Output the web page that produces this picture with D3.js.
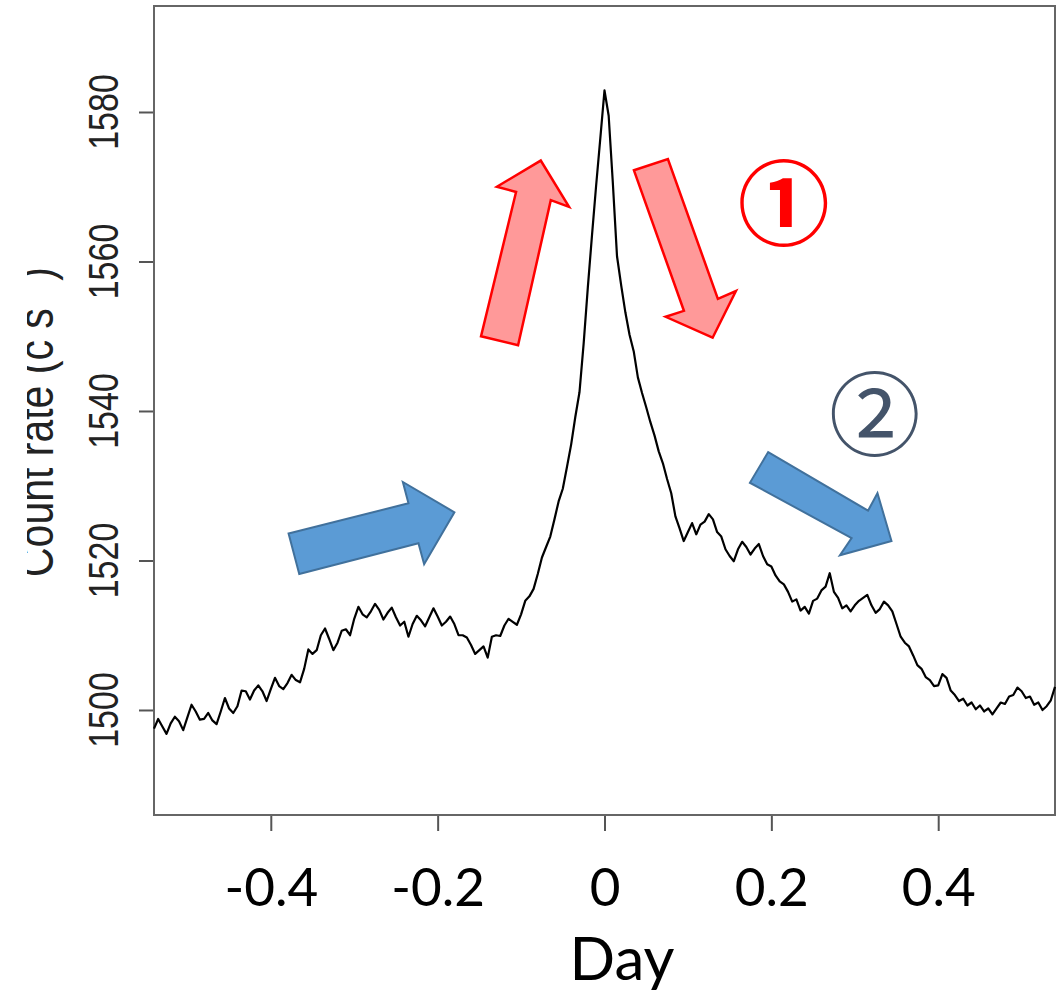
<!DOCTYPE html>
<html>
<head>
<meta charset="utf-8">
<script src="https://cdn.jsdelivr.net/npm/d3@7"></script>
<style>
  body { margin: 0; background: #fff; }
  svg { display: block; }
</style>
</head>
<body>
<div id="chart"></div>
<script>
// light curve (day, count rate)
const day = [
  -0.540,-0.535,-0.530,-0.525,-0.520,-0.515,-0.510,-0.505,-0.500,-0.495,
  -0.490,-0.485,-0.480,-0.475,-0.470,-0.465,-0.460,-0.455,-0.450,-0.445,
  -0.440,-0.435,-0.430,-0.425,-0.420,-0.415,-0.410,-0.405,-0.400,-0.395,
  -0.390,-0.385,-0.380,-0.375,-0.370,-0.365,-0.360,-0.355,-0.350,-0.345,
  -0.340,-0.335,-0.330,-0.325,-0.320,-0.315,-0.310,-0.305,-0.300,-0.295,
  -0.290,-0.285,-0.280,-0.275,-0.270,-0.265,-0.260,-0.255,-0.250,-0.245,
  -0.240,-0.235,-0.230,-0.225,-0.220,-0.215,-0.210,-0.205,-0.200,-0.195,
  -0.190,-0.185,-0.180,-0.175,-0.170,-0.165,-0.160,-0.155,-0.150,-0.145,
  -0.140,-0.135,-0.130,-0.125,-0.120,-0.115,-0.110,-0.105,-0.100,-0.095,
  -0.090,-0.085,-0.080,-0.075,-0.070,-0.065,-0.060,-0.055,-0.050,-0.045,
  -0.040,-0.035,-0.030,-0.025,-0.020,-0.015,-0.010,-0.005, 0.000, 0.005,
   0.010, 0.015, 0.020, 0.025, 0.030, 0.035, 0.040, 0.045, 0.050, 0.055,
   0.060, 0.065, 0.070, 0.075, 0.080, 0.085, 0.090, 0.095, 0.100, 0.105,
   0.110, 0.115, 0.120, 0.125, 0.130, 0.135, 0.140, 0.145, 0.150, 0.155,
   0.160, 0.165, 0.170, 0.175, 0.180, 0.185, 0.190, 0.195, 0.200, 0.205,
   0.210, 0.215, 0.220, 0.225, 0.230, 0.235, 0.240, 0.245, 0.250, 0.255,
   0.260, 0.265, 0.270, 0.275, 0.280, 0.285, 0.290, 0.295, 0.300, 0.305,
   0.310, 0.315, 0.320, 0.325, 0.330, 0.335, 0.340, 0.345, 0.350, 0.355,
   0.360, 0.365, 0.370, 0.375, 0.380, 0.385, 0.390, 0.395, 0.400, 0.405,
   0.410, 0.415, 0.420, 0.425, 0.430, 0.435, 0.440, 0.445, 0.450, 0.455,
   0.460, 0.465, 0.470, 0.475, 0.480, 0.485, 0.490, 0.495, 0.500, 0.505,
   0.510, 0.515, 0.520, 0.525, 0.530, 0.535, 0.540
];
const rate = [
  1497.5,1498.8,1497.8,1496.8,1498.2,1499.1,1498.5,1497.3,1499.0,1500.7,
  1499.8,1498.7,1498.8,1499.6,1498.6,1498.1,1499.8,1501.6,1500.2,1499.6,
  1500.5,1502.6,1502.5,1501.4,1502.6,1503.3,1502.5,1501.2,1502.8,1504.3,
  1503.2,1502.8,1503.6,1504.7,1504.0,1503.7,1505.5,1508.1,1507.5,1508.0,
  1510.0,1510.9,1509.5,1508.0,1509.0,1510.6,1510.8,1510.0,1512.2,1513.8,
  1512.8,1512.4,1513.2,1514.2,1513.4,1512.1,1513.0,1513.7,1512.4,1511.3,
  1511.8,1509.8,1511.5,1512.6,1512.0,1511.2,1512.4,1513.6,1512.5,1511.3,
  1511.8,1512.5,1511.5,1510.0,1510.0,1509.7,1508.7,1507.5,1508.0,1508.5,
  1507.0,1509.8,1510.0,1509.9,1511.3,1512.2,1511.8,1511.4,1512.8,1514.6,
  1515.2,1516.2,1518.2,1520.4,1521.8,1523.2,1525.5,1527.9,1529.6,1532.5,
  1535.5,1539.2,1542.5,1549.0,1556.5,1563.5,1570.2,1576.5,1582.9,1579.5,
  1570.5,1560.7,1556.8,1553.2,1550.2,1548.0,1544.5,1542.4,1540.5,1538.5,
  1536.7,1534.6,1533.0,1530.9,1529.0,1525.9,1524.3,1522.6,1523.8,1525.0,
  1523.5,1524.8,1525.2,1526.2,1525.5,1523.8,1523.2,1521.5,1520.6,1519.9,
  1521.5,1522.5,1521.8,1520.8,1521.6,1522.2,1520.6,1519.5,1519.2,1518.0,
  1517.2,1516.8,1515.8,1514.5,1514.8,1513.3,1513.8,1512.9,1514.6,1514.9,
  1516.0,1516.5,1518.3,1515.8,1515.0,1513.6,1514.0,1513.2,1514.0,1514.6,
  1515.0,1515.4,1514.0,1513.0,1513.5,1514.5,1514.0,1513.2,1511.5,1509.8,
  1509.0,1508.5,1507.3,1506.0,1505.5,1504.4,1504.0,1503.2,1503.3,1504.8,
  1504.3,1502.6,1502.0,1501.2,1501.5,1500.6,1501.0,1500.1,1500.6,1499.8,
  1500.2,1499.4,1500.2,1501.0,1500.8,1501.8,1502.0,1503.0,1502.5,1501.6,
  1501.8,1500.7,1501.0,1500.0,1500.5,1501.3,1503.1
];

const yTicks = [1500, 1520, 1540, 1560, 1580];
const xTicks = [-0.4, -0.2, 0, 0.2, 0.4];
const xTickLabels = ["-0.4", "-0.2", "0", "0.2", "0.4"];

// annotation arrows, vertices in (day, rate)
const redUp = [[-0.148,1550.0],[-0.106,1569.3],[-0.129,1570.0],[-0.0764,1573.5],[-0.0425,1567.3],[-0.0644,1568.2],[-0.1036,1548.8]];
const redDown = [[0.0353,1572.2],[0.0760,1573.7],[0.1359,1555.0],[0.1575,1556.05],[0.1296,1549.8],[0.0733,1552.6],[0.0952,1553.4]];
const blueLeft = [[-0.3659,1518.2],[-0.3787,1523.6],[-0.2350,1527.65],[-0.2417,1530.5],[-0.1799,1526.45],[-0.2162,1519.5],[-0.2230,1522.3]];
const blueRight = [[0.1962,1534.5],[0.3159,1526.66],[0.3272,1529.0],[0.3440,1522.6],[0.2822,1520.7],[0.2962,1523.0],[0.1743,1530.4]];
const marks = [
  { label: "①", at: [0.215, 1568.6], color: "#ff0000", weight: 700 },
  { label: "②", at: [0.324, 1540.3], color: "#44546a", weight: 400 }
];

const width = 1064, height = 995;
const mLeft = 154, mRight = 1055, mTop = 6, mBottom = 815;

const svg = d3.select("#chart").append("svg")
    .attr("width", width)
    .attr("height", height);

svg.append("rect").attr("width", width).attr("height", height).attr("fill", "#fff");

const x = d3.scaleLinear().domain([-0.54, 0.54]).range([mLeft, mRight]);
const y = d3.scaleLinear().domain([1485.95, 1594.18]).range([mBottom, mTop]);

// y axis (R style, rotated labels)
const yAxis = svg.append("g")
    .attr("transform", `translate(${mLeft},0)`)
    .call(d3.axisLeft(y).tickValues(yTicks).tickSize(15).tickSizeOuter(0));
yAxis.select(".domain").remove();
yAxis.selectAll("line").attr("stroke", "#555").attr("stroke-width", 2);
yAxis.selectAll("text").remove();

svg.selectAll(".ylab")
    .data(yTicks)
    .enter()
    .append("text")
    .attr("class", "ylab")
    .attr("transform", d => `translate(118,${y(d)}) rotate(-90) scale(1,1.23)`)
    .attr("text-anchor", "middle")
    .style("font-family", "'Liberation Sans', Arial, sans-serif")
    .style("font-size", "34px")
    .style("fill", "#222")
    .text(d => d);

// y title, cut off at the left like the picture
svg.append("clipPath").attr("id", "cut")
    .append("rect").attr("x", 27).attr("y", 0).attr("width", 100).attr("height", height);

const ytitle = svg.append("g").attr("clip-path", "url(#cut)")
  .append("text")
    .attr("transform", "translate(53,577) rotate(-90) scale(1,1.23)")
    .style("font-family", "'Liberation Sans', Arial, sans-serif")
    .style("font-size", "41px")
    .style("fill", "#222");
ytitle.append("tspan").text("Count rate (c s");
ytitle.append("tspan").attr("dy", -26).style("font-size", "24px").text("−1");
ytitle.append("tspan").attr("dy", 26).text(")");

// x axis
const xAxis = svg.append("g")
    .attr("transform", `translate(0,${mBottom})`)
    .call(d3.axisBottom(x).tickValues(xTicks).tickSize(16).tickSizeOuter(0)
        .tickFormat((d, i) => xTickLabels[i]));
xAxis.select(".domain").remove();
xAxis.selectAll("line").attr("stroke", "#555").attr("stroke-width", 2);
xAxis.selectAll("text")
    .attr("y", 91)
    .attr("dy", null)
    .style("font-family", "Lato, 'Open Sans', sans-serif")
    .style("font-size", "53px")
    .style("fill", "#000");

svg.append("text")
    .attr("x", 622)
    .attr("y", 980)
    .attr("text-anchor", "middle")
    .style("font-family", "Lato, 'Open Sans', sans-serif")
    .style("font-size", "60px")
    .style("fill", "#000")
    .text("Day");

// frame
svg.append("rect")
    .attr("x", mLeft).attr("y", mTop)
    .attr("width", mRight - mLeft).attr("height", mBottom - mTop)
    .attr("fill", "none")
    .attr("stroke", "#666")
    .attr("stroke-width", 2);

// the light curve
const line = d3.line()
    .x((d, i) => x(day[i]))
    .y(d => y(d));

svg.append("path")
    .datum(rate)
    .attr("d", line)
    .attr("fill", "none")
    .attr("stroke", "#000")
    .attr("stroke-width", 2.2)
    .attr("stroke-linejoin", "round");

// arrows
const shape = d3.line().x(d => x(d[0])).y(d => y(d[1]));

[[redUp, "#ff9999", "#ff0000", 2.5], [redDown, "#ff9999", "#ff0000", 2.5],
 [blueLeft, "#5b9bd5", "#41719c", 2], [blueRight, "#5b9bd5", "#41719c", 2]]
  .forEach(([pts, fill, stroke, sw]) => {
    svg.append("path")
        .attr("d", shape(pts) + "Z")
        .attr("fill", fill)
        .attr("stroke", stroke)
        .attr("stroke-width", sw)
        .attr("stroke-linejoin", "miter");
  });

// circled numbers
svg.selectAll(".mark")
    .data(marks)
    .enter()
    .append("text")
    .attr("class", "mark")
    .attr("x", d => x(d.at[0]))
    .attr("y", d => y(d.at[1]))
    .attr("text-anchor", "middle")
    .attr("dominant-baseline", "central")
    .style("font-family", "'Noto Sans CJK JP', sans-serif")
    .style("font-size", "92px")
    .style("font-weight", d => d.weight)
    .style("fill", d => d.color)
    .text(d => d.label);
</script>
</body>
</html>
